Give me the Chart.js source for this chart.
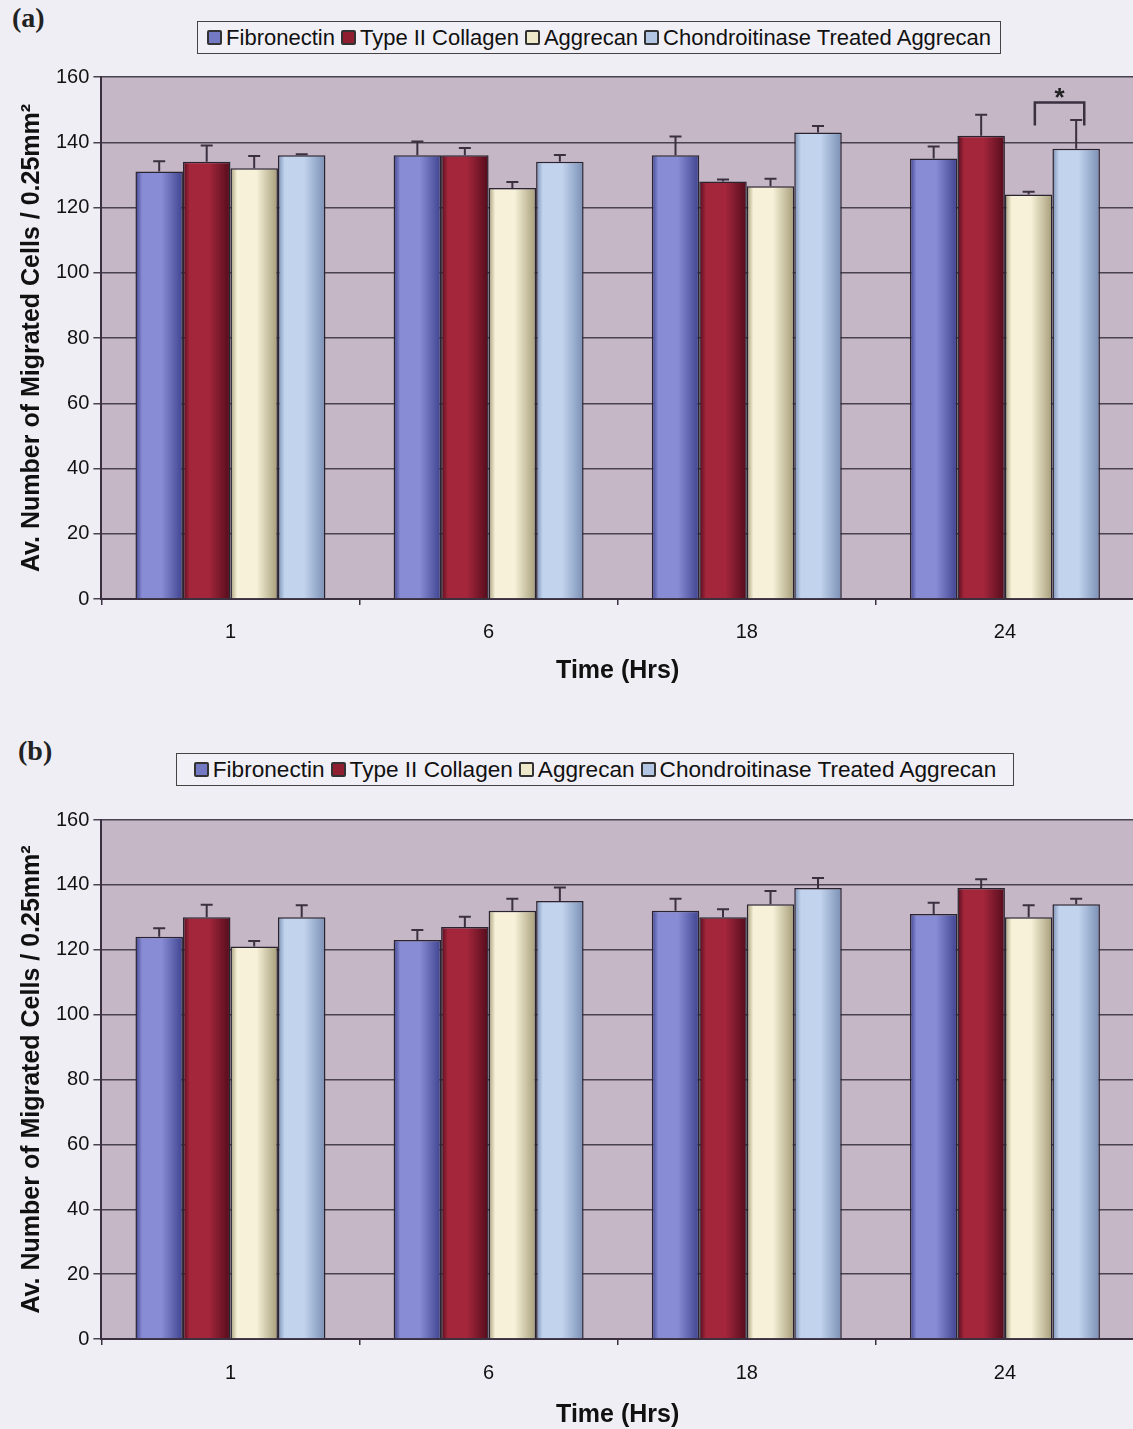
<!DOCTYPE html>
<html><head><meta charset="utf-8">
<script src="https://cdn.jsdelivr.net/npm/chart.js@4/dist/chart.umd.min.js"></script>
<style>
html,body{margin:0;padding:0;width:1133px;height:1429px;overflow:hidden;background:#efeef5;font-family:"Liberation Sans",Arial,sans-serif;}
.wrap{position:absolute;left:0;}
#wa{top:0;}
#wb{top:700px;}
.panel{position:absolute;font-family:"Liberation Serif","Times New Roman",serif;font-weight:bold;font-size:28px;color:#222;}
.legend{position:absolute;border:1.5px solid #444;background:#f1f0f6;display:flex;align-items:center;justify-content:center;white-space:nowrap;color:#111;box-sizing:border-box;}
.legend .it{display:flex;align-items:center;margin:0 3px}
.legend .sw{width:11px;height:11px;border:2px solid #333;border-radius:2px;margin-right:4px;}
</style></head>
<body>
<div class="panel" style="left:12px;top:2px">(a)</div>
<div class="panel" style="left:18px;top:735px">(b)</div>
<div id="lega" class="legend" style="left:197px;top:21px;width:804px;height:33px;font-size:22px"></div>
<div id="legb" class="legend" style="left:176px;top:753px;width:838px;height:33px;font-size:22.6px"></div>
<div class="wrap" id="wa"><canvas id="ca" width="1140" height="700"></canvas></div>
<div class="wrap" id="wb"><canvas id="cb" width="1140" height="732"></canvas></div>
<script>
// ---- data ----
const categories = ['1', '6', '18', '24'];
const seriesNames = ['Fibronectin', 'Type II Collagen', 'Aggrecan', 'Chondroitinase Treated Aggrecan'];
const yTicks = [0, 20, 40, 60, 80, 100, 120, 140, 160];

// panel (a)
const aFibronectin = [131, 136, 136, 135];
const aCollagen    = [134, 136, 128, 142];
const aAggrecan    = [132, 126, 126.5, 124];
const aChondro     = [136, 134, 143, 138];
const aFibronectinErr = [3.2, 4.2, 5.8, 3.7];
const aCollagenErr    = [5, 2.2, 0.6, 6.4];
const aAggrecanErr    = [3.8, 1.8, 2.3, 0.8];
const aChondroErr     = [0.3, 2.1, 2, 8.8];
// significance bracket (panel a): category, from series, to series, bracket top value, leg bottom value
const aSigCategory = 3, aSigFrom = 2, aSigTo = 3, aSigTop = 152.2, aSigLeg = 145.1, aSigLabel = '*';

// panel (b)
const bFibronectin = [124, 123, 132, 131];
const bCollagen    = [130, 127, 130, 139];
const bAggrecan    = [121, 132, 134, 130];
const bChondro     = [130, 135, 139, 134];
const bFibronectinErr = [2.6, 3.1, 3.7, 3.5];
const bCollagenErr    = [3.9, 3.2, 2.5, 2.7];
const bAggrecanErr    = [1.7, 3.7, 4.1, 3.7];
const bChondroErr     = [3.7, 4.2, 3.1, 1.7];

// ---- styles ----
const FONT = '"Liberation Sans", Arial, sans-serif';
const seriesLight = ['#878cd4', '#a3263b', '#f6f1d8', '#c1d3ed'];
const seriesDark  = ['#3f4390', '#540c1c', '#a59c78', '#7a8fb4'];
const seriesSwatch = ['#7479c4', '#8e1e30', '#efe9cc', '#b2c6e4'];
const plotBg = '#c6b7c7';
const axisColor = '#3a3040';

function buildLegend(id) {
  const el = document.getElementById(id);
  seriesNames.forEach((n, i) => {
    const it = document.createElement('span'); it.className = 'it';
    const sw = document.createElement('span'); sw.className = 'sw'; sw.style.background = seriesSwatch[i];
    const t = document.createElement('span'); t.textContent = n;
    it.appendChild(sw); it.appendChild(t); el.appendChild(it);
  });
}
buildLegend('lega'); buildLegend('legb');

const plotBackground = {
  id: 'plotBackground',
  beforeDraw(chart) {
    const {ctx, chartArea: a} = chart;
    ctx.save(); ctx.fillStyle = plotBg; ctx.fillRect(a.left, a.top, a.right - a.left, a.bottom - a.top); ctx.restore();
  }
};
const barShading = {
  id: 'barShading',
  beforeDatasetsDraw(chart) {
    const ctx = chart.ctx;
    chart.data.datasets.forEach((ds, di) => {
      chart.getDatasetMeta(di).data.forEach(el => {
        const l = el.x - el.width / 2, r = el.x + el.width / 2;
        const g = ctx.createLinearGradient(l, 0, r, 0);
        g.addColorStop(0, seriesDark[di]); g.addColorStop(0.14, seriesLight[di]);
        g.addColorStop(0.55, seriesLight[di]); g.addColorStop(1, seriesDark[di]);
        el.options = Object.assign({}, el.options, {backgroundColor: g});
      });
    });
  }
};
const errorBars = {
  id: 'errorBars',
  afterDatasetsDraw(chart) {
    const ctx = chart.ctx, y = chart.scales.y;
    chart.data.datasets.forEach((ds, di) => {
      chart.getDatasetMeta(di).data.forEach((el, i) => {
        const v = ds.data[i], e = ds.errors[i];
        const yb = y.getPixelForValue(v), yt = y.getPixelForValue(v + e);
        ctx.save(); ctx.strokeStyle = '#3a3040'; ctx.lineWidth = 2;
        ctx.beginPath(); ctx.moveTo(el.x, yb); ctx.lineTo(el.x, yt);
        ctx.moveTo(el.x - 6, yt); ctx.lineTo(el.x + 6, yt); ctx.stroke(); ctx.restore();
      });
    });
  }
};
const sigBracket = {
  id: 'sigBracket',
  afterDatasetsDraw(chart, args, opts) {
    if (!opts || !opts.show) return;
    const ctx = chart.ctx, y = chart.scales.y;
    const e1 = chart.getDatasetMeta(opts.from).data[opts.category];
    const e2 = chart.getDatasetMeta(opts.to).data[opts.category];
    const x1 = e1.x + e1.width * 0.13, x2 = e2.x + e2.width * 0.17;
    const yt = y.getPixelForValue(opts.top), yl = y.getPixelForValue(opts.leg);
    ctx.save(); ctx.strokeStyle = '#3a3040'; ctx.lineWidth = 2.5;
    ctx.beginPath(); ctx.moveTo(x1, yl); ctx.lineTo(x1, yt); ctx.lineTo(x2, yt); ctx.lineTo(x2, yl); ctx.stroke();
    ctx.fillStyle = '#222'; ctx.font = 'bold 26px ' + FONT; ctx.textAlign = 'center'; ctx.textBaseline = 'middle';
    ctx.fillText(opts.label, (x1 + x2) / 2, yt - 4);
    ctx.restore();
  }
};

function makeChart(id, values, errs, layoutPad, xPad, titlePadTop, sig) {
  const datasets = seriesNames.map((n, i) => ({
    label: n, data: values[i], errors: errs[i],
    backgroundColor: () => seriesSwatch[i],
    borderColor: '#2a2430', borderWidth: 1.5,
    categoryPercentage: 0.736, barPercentage: 1
  }));
  return new Chart(document.getElementById(id), {
    type: 'bar',
    data: {labels: categories, datasets},
    options: {
      responsive: false, animation: false, devicePixelRatio: 1,
      layout: {padding: layoutPad},
      plugins: {legend: {display: false}, tooltip: {enabled: false}, sigBracket: sig},
      scales: {
        x: {
          grid: {display: true, drawOnChartArea: false, drawTicks: true, tickLength: 6, color: axisColor, lineWidth: 1.5, offset: true},
          border: {color: axisColor, width: 2},
          ticks: {font: {family: FONT, size: 20}, color: '#111', padding: xPad},
          title: {display: true, text: 'Time (Hrs)', font: {family: FONT, size: 25, weight: 'bold', lineHeight: 1}, color: '#111', padding: {top: titlePadTop, bottom: 4}}
        },
        y: {
          min: 0, max: 160,
          afterBuildTicks: s => { s.ticks = yTicks.map(v => ({value: v})); },
          ticks: {font: {family: FONT, size: 20}, color: '#111', padding: 4},
          grid: {color: '#4a4250', lineWidth: 1.5, tickLength: 8},
          border: {color: axisColor, width: 2},
          title: {display: true, text: 'Av. Number of Migrated Cells / 0.25mm²', font: {family: FONT, size: 25, weight: 'bold', lineHeight: 1}, color: '#111', padding: {top: 3.5, bottom: 7.5}}
        }
      }
    },
    plugins: [plotBackground, barShading, errorBars, sigBracket]
  });
}

makeChart('ca',
  [aFibronectin, aCollagen, aAggrecan, aChondro],
  [aFibronectinErr, aCollagenErr, aAggrecanErr, aChondroErr],
  {left: 16, right: 6, top: 77, bottom: 12}, 15, 0,
  {show: true, category: aSigCategory, from: aSigFrom, to: aSigTo, top: aSigTop, leg: aSigLeg, label: aSigLabel});
makeChart('cb',
  [bFibronectin, bCollagen, bAggrecan, bChondro],
  [bFibronectinErr, bCollagenErr, bAggrecanErr, bChondroErr],
  {left: 16, right: 6, top: 120, bottom: 0}, 16, 2,
  {show: false});
</script>
</body></html>
